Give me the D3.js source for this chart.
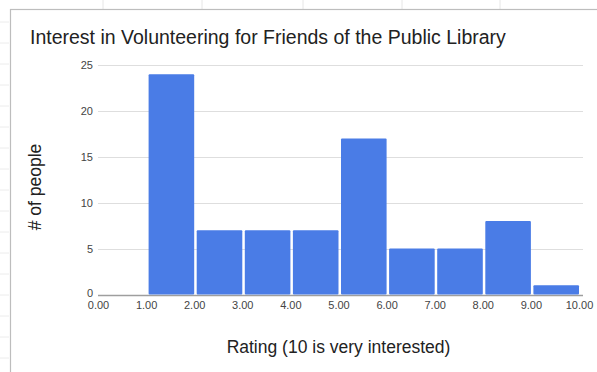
<!DOCTYPE html>
<html>
<head>
<meta charset="utf-8">
<script src="https://cdn.jsdelivr.net/npm/d3@7"></script>
<style>
  html, body { margin: 0; padding: 0; background: #fff; }
  svg { display: block; font-family: "Liberation Sans", Arial, Helvetica, sans-serif; }
</style>
</head>
<body>
<svg id="chart" width="597" height="372"></svg>
<script>
// Histogram bins: rating ranges and number of people in each
const binStarts = [0, 1, 2, 3, 4, 5, 6, 7, 8, 9];
const binEnds   = [1, 2, 3, 4, 5, 6, 7, 8, 9, 10];
const counts    = [0, 24, 7, 7, 7, 17, 5, 5, 8, 1];
const xTicks    = [0, 1, 2, 3, 4, 5, 6, 7, 8, 9, 10];
const yTicks    = [0, 5, 10, 15, 20, 25];

const title  = "Interest in Volunteering for Friends of the Public Library";
const xTitle = "Rating (10 is very interested)";
const yTitle = "# of people";

const svg = d3.select("#chart");
const W = 597, H = 372;

// Faint sheet cell lines behind the chart card
const bg = svg.append("g");
[103, 202, 303, 402, 500].forEach(x =>
  bg.append("line").attr("x1", x).attr("x2", x).attr("y1", 0).attr("y2", 9)
    .attr("stroke", "#e6e6e6").attr("stroke-width", 1));
d3.range(22, H, 21).forEach(y =>
  bg.append("line").attr("x1", 0).attr("x2", 9).attr("y1", y).attr("y2", y)
    .attr("stroke", "#ececec").attr("stroke-width", 1));

// Chart card border (top and left edges visible)
svg.append("rect").attr("x", 10.5).attr("y", 9.5).attr("width", W + 10).attr("height", H + 10)
  .attr("fill", "#fff").attr("stroke", "#bdbdbd").attr("stroke-width", 1.2);

const x = d3.scaleLinear().domain([0, 10]).range([100, 581]);
const y = d3.scaleLinear().domain([0, 25]).range([294.5, 65]);

// Horizontal gridlines
svg.append("g").selectAll("line").data(yTicks).join("line")
  .attr("x1", x(0) - 2).attr("x2", x(10) + 2)
  .attr("y1", d => Math.round(y(d)) + 0.5).attr("y2", d => Math.round(y(d)) + 0.5)
  .attr("stroke", d => d === 0 ? "#9e9e9e" : "#dedede")
  .attr("stroke-width", d => d === 0 ? 1.4 : 1);

// Y tick labels
svg.append("g").selectAll("text").data(yTicks).join("text")
  .attr("x", 93).attr("y", d => y(d) + (d === 0 ? 2 : 4))
  .attr("text-anchor", "end").attr("font-size", 11).attr("fill", "#444")
  .text(d => d);

// X tick labels
svg.append("g").selectAll("text").data(xTicks).join("text")
  .attr("x", d => x(d) - 1.5).attr("y", 309)
  .attr("text-anchor", "middle").attr("font-size", 11).attr("fill", "#444")
  .text(d => d3.format(".2f")(d));

// Bars
const bins = binStarts.map((s, i) => ({ x0: s, x1: binEnds[i], n: counts[i] }));
svg.append("g").selectAll("rect").data(bins.filter(d => d.n > 0)).join("rect")
  .attr("x", d => x(d.x0) + 0.5)
  .attr("width", d => x(d.x1) - x(d.x0) - 2.5)
  .attr("y", d => y(d.n))
  .attr("height", d => y(0) - y(d.n))
  .attr("rx", 1)
  .attr("fill", "#4a7ce6");

// Title
svg.append("text").attr("x", 30).attr("y", 44)
  .attr("font-size", 19.5).attr("fill", "#222").text(title);

// Axis titles
svg.append("text").attr("x", 338.5).attr("y", 353)
  .attr("text-anchor", "middle").attr("font-size", 17.5).attr("fill", "#222").text(xTitle);

svg.append("text")
  .attr("transform", "translate(41,187) rotate(-90)")
  .attr("text-anchor", "middle").attr("font-size", 17.5).attr("fill", "#222").text(yTitle);
</script>
</body>
</html>
